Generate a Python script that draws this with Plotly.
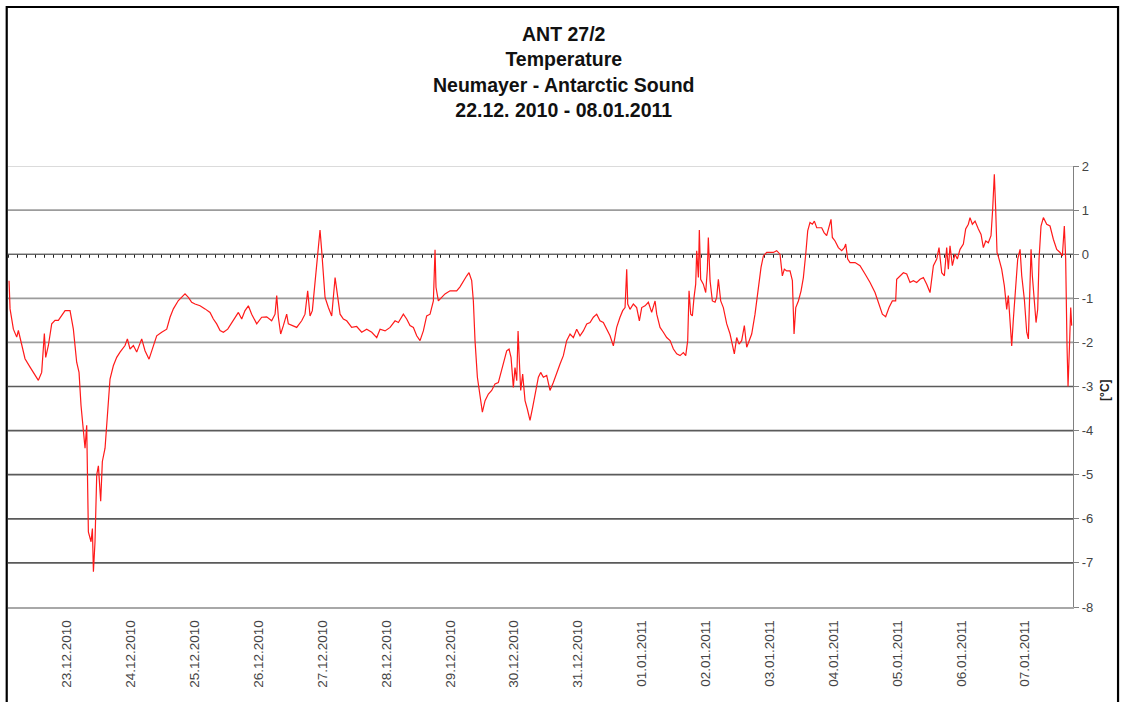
import pandas as pd
import plotly.graph_objects as go

# ---- data: time in days since 22.12.2010 00:00, temperature in °C ----
day_offsets = [
    0.092, 0.108, 0.160, 0.212, 0.238, 0.290, 0.342, 0.421, 0.499, 0.551,
    0.603, 0.645, 0.666, 0.708, 0.760, 0.812, 0.864, 0.917, 0.969, 1.047,
    1.099, 1.151, 1.188, 1.219, 1.256, 1.282, 1.308, 1.324, 1.334, 1.376,
    1.397, 1.413, 1.438, 1.465, 1.491, 1.527, 1.553, 1.595, 1.637, 1.673,
    1.725, 1.778, 1.830, 1.908, 1.945, 1.986, 2.039, 2.091, 2.169, 2.221,
    2.284, 2.352, 2.404, 2.482, 2.561, 2.613, 2.665, 2.743, 2.795, 2.847,
    2.900, 2.952, 3.004, 3.082, 3.161, 3.239, 3.291, 3.343, 3.396, 3.448,
    3.516, 3.578, 3.630, 3.683, 3.735, 3.787, 3.839, 3.891, 3.970, 4.048,
    4.126, 4.204, 4.257, 4.283, 4.309, 4.345, 4.387, 4.439, 4.465, 4.518,
    4.596, 4.674, 4.726, 4.768, 4.805, 4.841, 4.883, 4.909, 4.935, 4.961,
    4.987, 5.013, 5.040, 5.092, 5.144, 5.197, 5.223, 5.275, 5.327, 5.379,
    5.457, 5.535, 5.614, 5.692, 5.771, 5.849, 5.901, 5.980, 6.058, 6.136,
    6.188, 6.266, 6.318, 6.370, 6.423, 6.475, 6.527, 6.579, 6.631, 6.684,
    6.736, 6.762, 6.777, 6.814, 6.866, 6.918, 6.997, 7.049, 7.101, 7.153,
    7.205, 7.258, 7.294, 7.336, 7.362, 7.388, 7.425, 7.466, 7.503, 7.545,
    7.597, 7.649, 7.701, 7.753, 7.790, 7.832, 7.884, 7.921, 7.952, 7.988,
    8.014, 8.041, 8.062, 8.082, 8.103, 8.134, 8.171, 8.207, 8.249, 8.291,
    8.327, 8.380, 8.416, 8.458, 8.510, 8.562, 8.614, 8.667, 8.719, 8.771,
    8.823, 8.876, 8.928, 8.980, 9.032, 9.084, 9.137, 9.189, 9.241, 9.293,
    9.345, 9.397, 9.450, 9.502, 9.554, 9.606, 9.658, 9.700, 9.737, 9.763,
    9.779, 9.815, 9.867, 9.919, 9.961, 9.998, 10.050, 10.102, 10.154, 10.207,
    10.233, 10.285, 10.337, 10.389, 10.442, 10.494, 10.546, 10.598, 10.650, 10.687,
    10.718, 10.739, 10.765, 10.791, 10.817, 10.843, 10.859, 10.885, 10.900, 10.921,
    10.963, 11.000, 11.026, 11.041, 11.068, 11.104, 11.146, 11.172, 11.198, 11.235,
    11.276, 11.329, 11.381, 11.417, 11.448, 11.485, 11.522, 11.563, 11.605, 11.642,
    11.678, 11.720, 11.772, 11.825, 11.866, 11.903, 11.955, 12.007, 12.059, 12.111,
    12.163, 12.200, 12.231, 12.268, 12.320, 12.357, 12.383, 12.410, 12.451, 12.493,
    12.529, 12.566, 12.597, 12.633, 12.670, 12.701, 12.738, 12.816, 12.853, 12.894,
    12.931, 12.962, 12.983, 13.025, 13.077, 13.129, 13.171, 13.192, 13.223, 13.260,
    13.338, 13.416, 13.495, 13.573, 13.651, 13.713, 13.766, 13.818, 13.870, 13.922,
    13.974, 13.990, 14.042, 14.095, 14.147, 14.199, 14.251, 14.303, 14.356, 14.408,
    14.460, 14.512, 14.565, 14.617, 14.653, 14.695, 14.737, 14.773, 14.799, 14.825,
    14.862, 14.903, 14.940, 14.982, 15.034, 15.070, 15.112, 15.138, 15.175, 15.217,
    15.269, 15.311, 15.347, 15.384, 15.425, 15.467, 15.493, 15.519, 15.540, 15.561,
    15.593, 15.634, 15.676, 15.713, 15.738, 15.765, 15.791, 15.817, 15.854, 15.885,
    15.922, 15.948, 15.989, 16.026, 16.052, 16.078, 16.094, 16.114, 16.146, 16.172,
    16.198, 16.219, 16.250, 16.287, 16.339, 16.391, 16.443, 16.496, 16.548, 16.584,
    16.615, 16.636, 16.657, 16.673, 16.694, 16.715, 16.730,
]

temperatures = [
    -0.60, -1.24, -1.70, -1.88, -1.73, -2.04, -2.37, -2.56, -2.75, -2.86,
    -2.68, -1.80, -2.34, -2.07, -1.58, -1.50, -1.50, -1.40, -1.28, -1.28,
    -1.70, -2.45, -2.68, -3.43, -3.96, -4.40, -3.88, -5.17, -6.30, -6.52,
    -6.22, -7.20, -6.52, -5.00, -4.80, -5.60, -4.70, -4.40, -3.66, -2.83,
    -2.53, -2.34, -2.22, -2.07, -1.92, -2.15, -2.07, -2.22, -1.92, -2.19,
    -2.38, -2.07, -1.85, -1.77, -1.70, -1.43, -1.24, -1.05, -0.98, -0.90,
    -0.98, -1.09, -1.13, -1.17, -1.24, -1.32, -1.47, -1.58, -1.73, -1.77,
    -1.70, -1.55, -1.43, -1.32, -1.47, -1.28, -1.17, -1.36, -1.58, -1.43,
    -1.42, -1.51, -1.36, -0.94, -1.43, -1.81, -1.62, -1.36, -1.58, -1.62,
    -1.66, -1.51, -1.36, -0.83, -1.40, -1.28, -0.68, -0.15, 0.15, 0.55,
    0.08, -0.53, -0.98, -1.21, -1.40, -0.53, -0.83, -1.36, -1.47, -1.51,
    -1.66, -1.64, -1.77, -1.70, -1.77, -1.89, -1.70, -1.74, -1.66, -1.51,
    -1.55, -1.36, -1.47, -1.62, -1.66, -1.85, -1.96, -1.74, -1.40, -1.36,
    -1.06, 0.10, -0.75, -1.06, -0.98, -0.90, -0.83, -0.83, -0.83, -0.74,
    -0.60, -0.49, -0.42, -0.60, -1.06, -1.96, -2.79, -3.17, -3.58, -3.32,
    -3.17, -3.09, -2.94, -2.91, -2.72, -2.45, -2.19, -2.15, -2.34, -3.02,
    -2.57, -2.87, -1.74, -2.42, -3.09, -2.72, -3.32, -3.51, -3.77, -3.47,
    -3.17, -2.79, -2.68, -2.79, -2.75, -3.09, -2.91, -2.72, -2.49, -2.30,
    -1.96, -1.81, -1.89, -1.70, -1.85, -1.74, -1.58, -1.55, -1.43, -1.36,
    -1.51, -1.55, -1.70, -1.85, -2.08, -1.66, -1.43, -1.28, -1.21, -0.34,
    -1.13, -1.25, -1.13, -1.21, -1.51, -1.21, -1.17, -1.09, -1.32, -1.06,
    -1.36, -1.66, -1.77, -1.89, -1.96, -2.15, -2.26, -2.30, -2.23, -2.30,
    -1.96, -0.83, -1.36, -1.40, -0.98, -0.68, 0.08, -0.53, 0.55, -0.57,
    -0.68, -0.87, -0.34, 0.38, -0.60, -1.06, -1.09, -0.98, -0.57, -1.06,
    -1.21, -1.58, -1.81, -2.04, -2.26, -1.89, -2.04, -1.96, -1.62, -2.11,
    -1.96, -1.81, -1.36, -0.75, -0.30, -0.04, 0.04, 0.04, 0.04, 0.08,
    0.00, -0.49, -0.34, -0.38, -0.38, -0.60, -1.81, -1.21, -1.06, -0.83,
    -0.53, 0.00, 0.53, 0.72, 0.68, 0.75, 0.60, 0.60, 0.49, 0.42,
    0.64, 0.79, 0.38, 0.30, 0.15, 0.08, 0.15, 0.23, -0.11, -0.19,
    -0.19, -0.26, -0.45, -0.64, -0.87, -1.13, -1.36, -1.42, -1.21, -1.06,
    -1.06, -0.57, -0.49, -0.42, -0.45, -0.64, -0.60, -0.64, -0.57, -0.53,
    -0.68, -0.87, -0.26, -0.11, 0.15, -0.42, -0.49, 0.15, -0.34, 0.19,
    -0.26, 0.00, -0.11, 0.11, 0.23, 0.57, 0.68, 0.83, 0.68, 0.75,
    0.57, 0.45, 0.15, 0.30, 0.26, 0.42, 1.02, 1.81, 1.02, 0.04,
    -0.11, -0.34, -0.72, -1.25, -0.94, -1.47, -2.08, -1.47, -0.64, -0.11,
    0.11, -0.49, -1.02, -1.77, -1.92, -0.87, 0.11, -0.49, -1.17, -1.55,
    -1.25, -0.11, 0.64, 0.83, 0.68, 0.64, 0.34, 0.11, 0.04, -0.04,
    0.64, -0.11, -2.08, -3.00, -2.15, -1.21, -1.62,
]

start_date = "2010-12-22"
x_range = ["2010-12-22 01:49", "2011-01-07 18:01"]
date_ticks = pd.date_range("2010-12-23", "2011-01-07", freq="D")
date_tick_labels = [d.strftime("%d.%m.%Y") for d in date_ticks]

y_ticks = [2, 1, 0, -1, -2, -3, -4, -5, -6, -7, -8]
y_tick_labels = [str(v) for v in y_ticks]

title_lines = ["ANT 27/2", "Temperature", "Neumayer - Antarctic Sound",
               "22.12. 2010 - 08.01.2011"]

# gridline shading as in the original picture
grid_colors = {2: "#cfcfcf", 1: "#9c9c9c", -1: "#9c9c9c", -2: "#9c9c9c",
               -3: "#5a5a5a", -4: "#5a5a5a", -5: "#5a5a5a", -6: "#5a5a5a",
               -7: "#5a5a5a"}

times = pd.Timestamp(start_date) + pd.to_timedelta(day_offsets, unit="D")

FONT = "Liberation Sans, Arial, sans-serif"

fig = go.Figure()
fig.add_trace(go.Scatter(
    x=times, y=temperatures, mode="lines",
    line=dict(color="#ff1a1a", width=1.2),
    hoverinfo="skip", showlegend=False,
))

for lvl, col in grid_colors.items():
    fig.add_hline(y=lvl, line_color=col, line_width=1.7, layer="below")

# zero line: thin dark line with small hanging marks
fig.add_hline(y=0, line_color="#222222", line_width=1, layer="below")
fig.add_shape(type="line", xref="paper", x0=0, x1=1, yref="y",
              ysizemode="pixel", yanchor=0, y0=-2, y1=-2,
              line=dict(color="#222222", width=3, dash="1px,8px"),
              layer="below")

# outer chart frame
fig.add_shape(type="rect", xref="paper", yref="paper",
              x0=-0.0012, x1=1.0423, y0=-0.24, y1=1.3605,
              line=dict(color="black", width=2.2), fillcolor="rgba(0,0,0,0)")

fig.update_layout(
    width=1123, height=702,
    margin=dict(l=8, r=50, t=166, b=95),
    paper_bgcolor="white", plot_bgcolor="white",
    font=dict(family=FONT, color="#333333"),
    title=dict(
        text="<b>" + "<br>".join(title_lines) + "</b>",
        x=0.502, xref="container", xanchor="center",
        y=1 - 41 / 702, yref="container", yanchor="top",
        font=dict(family=FONT, size=19.5, color="#111111"),
    ),
    xaxis=dict(
        type="date", range=x_range,
        tickmode="array", tickvals=date_ticks, ticktext=date_tick_labels,
        tickangle=-90, ticks="", ticklabelstandoff=6,
        tickfont=dict(family=FONT, size=13.5, color="#444444"),
        showgrid=False, zeroline=False,
        showline=True, linecolor="#a8a8a8", linewidth=1.5,
    ),
    yaxis=dict(
        side="right", range=[-8, 2],
        tickmode="array", tickvals=y_ticks, ticktext=y_tick_labels,
        ticks="outside", ticklen=5, tickcolor="#808080", tickwidth=1,
        tickfont=dict(family=FONT, size=13, color="#444444"),
        showgrid=False, zeroline=False,
        showline=True, linecolor="#808080", linewidth=1.3,
    ),
)

fig.add_annotation(
    text="<b>[°C]</b>", xref="paper", yref="y",
    x=1.0385, y=-3.1, showarrow=False, textangle=-90,
    font=dict(family=FONT, size=12, color="#222222"),
)

fig.write_html(
    "out.html",
    config={"displayModeBar": False},
    post_script="document.body.style.margin='0';document.body.style.overflow='hidden';",
)
